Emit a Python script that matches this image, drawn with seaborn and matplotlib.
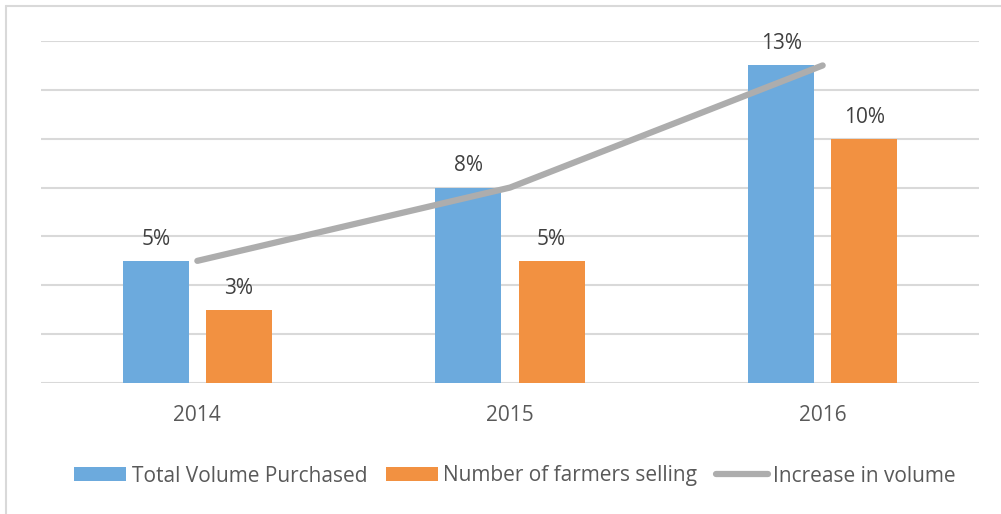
import matplotlib
matplotlib.use("Agg")
import matplotlib.pyplot as plt
from matplotlib.patches import Patch
from matplotlib.lines import Line2D
import seaborn as sns
import pandas as pd

# Data
years = ["2014", "2015", "2016"]
total_volume = [5, 8, 13]
farmers_selling = [3, 5, 10]
volume_increase = [5, 8, 13]
series_names = ["Total Volume Purchased", "Number of farmers selling"]
line_name = "Increase in volume"

blue = "#6CAADD"
orange = "#F29141"
grey = "#ADADAD"
label_color = "#404040"
tick_color = "#595959"
grid_color = "#D9D9D9"
fs = 15

sns.set_theme(style="white")
plt.rcParams["font.family"] = ["Open Sans", "DejaVu Sans"]

df = pd.DataFrame({
    "year": years * 2,
    "value": total_volume + farmers_selling,
    "series": [series_names[0]] * 3 + [series_names[1]] * 3,
})

fig = plt.figure(figsize=(10.01, 5.14), dpi=100)
ax = fig.add_axes([41 / 1001, 1 - 383 / 514, (979 - 41) / 1001, (383 - 41) / 514])

sns.barplot(data=df, x="year", y="value", hue="series", order=years,
            hue_order=series_names, palette=[blue, orange],
            width=0.531, gap=0.205, legend=False, ax=ax, saturation=1,
            linewidth=0)

sns.pointplot(x=years, y=volume_increase, order=years, color=grey,
              markers="", linestyles="-", ax=ax, errorbar=None)
for ln in ax.lines:
    ln.set_linewidth(4.5)
    ln.set_solid_capstyle("round")
    ln.set_zorder(5)

# Value labels above each bar
for container in ax.containers:
    labels = [f"{v:g}%" for v in container.datavalues]
    ax.bar_label(container, labels=labels, padding=8, fontsize=fs,
                 color=label_color)

ax.set_ylim(0, 14)
ax.set_xlim(-0.5, 2.5)
ax.set_yticks(range(0, 15, 2))
ax.set_yticklabels([])
ax.yaxis.grid(True, color=grid_color, linewidth=1.5)
ax.set_axisbelow(True)
ax.tick_params(axis="both", length=0)
ax.tick_params(axis="x", labelsize=fs, labelcolor=tick_color, pad=16)
ax.set_xlabel("")
ax.set_ylabel("")
for side in ["top", "right", "left", "bottom"]:
    ax.spines[side].set_visible(False)

handles = [
    Patch(facecolor=blue, edgecolor="none", label=series_names[0]),
    Patch(facecolor=orange, edgecolor="none", label=series_names[1]),
    Line2D([0], [0], color=grey, linewidth=4.5, solid_capstyle="round",
           label=line_name),
]
fig.legend(handles=handles, loc="center", bbox_to_anchor=(515 / 1001, 1 - 476 / 514),
           ncol=3, frameon=False, fontsize=fs, labelcolor=tick_color,
           handlelength=2.5, handleheight=0.68, handletextpad=0.25,
           columnspacing=0.9)

# Chart frame (top and left edges)
fig.add_artist(Line2D([6 / 1001, 1], [1 - 6 / 514, 1 - 6 / 514],
                      transform=fig.transFigure, color="#D9D9D9", linewidth=1.5))
fig.add_artist(Line2D([6 / 1001, 6 / 1001], [0, 1 - 6 / 514],
                      transform=fig.transFigure, color="#D9D9D9", linewidth=1.5))

fig.savefig("out.png", dpi=100)
